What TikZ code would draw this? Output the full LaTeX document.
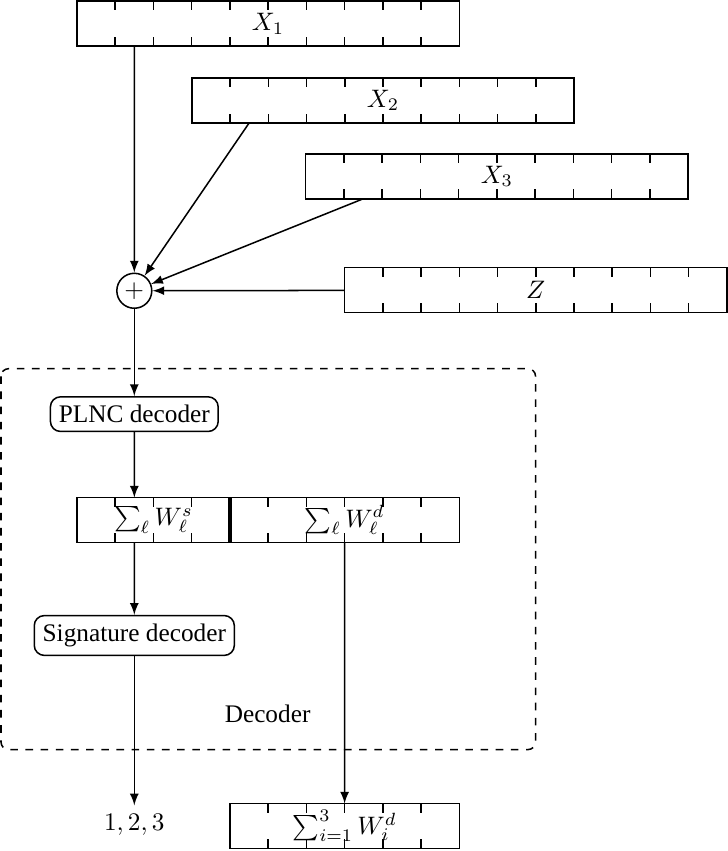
\documentclass[tikz,border=0pt]{standalone}
\usepackage{fontspec}
\setmainfont{Liberation Serif}
\usetikzlibrary{arrows}
\def\cw{0.5315cm}
\def\tl{0.13cm}
\begin{document}
\begin{tikzpicture}
    [
    semithick,
    bar/.style={rectangle,draw,inner sep=0pt,outer sep=0pt,minimum height=6.25mm,anchor=north west},
    adder/.style={circle,draw,inner sep=0pt,minimum size=4.86mm},
    block/.style={rectangle,draw,rounded corners}
    ]
    \useasboundingbox (0,0) rectangle (10.11,-11.83);
    \node (x1) at (1.07,-0.015) [bar,minimum width=5.315cm] {$X_1$};
    \node (x2) at (2.667,-1.083) [bar,minimum width=5.315cm] {$X_2$};
    \node (x3) at (4.25,-2.139) [bar,minimum width=5.315cm] {$X_3$};
    \node (z) at (4.79,-3.72) [bar,minimum width=5.315cm] {$Z$};
    \node (sum) at (1.867,-4.042) [adder] {$+$};
    \node (plnc) at (1.867,-5.757) [block] {PLNC decoder};
    \node (ws) at (1.07,-6.917) [bar,minimum width=2.126cm] {$\sum_\ell W_\ell^s$};
    \node (wd) at (3.196,-6.917) [bar,minimum width=3.189cm] {$\sum_\ell W_\ell^d$};
    \node (sig) at (1.867,-8.834) [block] {Signature decoder};
    \node (out) at (1.867,-11.47) {$1,2,3$};
    \node (wtot) at (3.196,-11.17) [bar,minimum width=3.189cm] {$\sum_{i=1}^3 W_i^d$};
    \node (declabel) at (3.72,-9.92) {Decoder};
    \draw [dashed,rounded corners=3pt] (0.014,-5.125) rectangle (7.445,-10.42);
    % ticks on the bars
    \foreach \n/\k in {x1/9,x2/9,x3/9,z/9,ws/3,wd/5,wtot/5}
      \foreach \i in {1,...,\k} {
        \draw ([xshift=\i*\cw]\n.north west) -- ++(0,-\tl);
        \draw ([xshift=\i*\cw]\n.south west) -- ++(0,\tl);
      }
    \draw [line width=1.6pt] (ws.north east) to (ws.south east);
    \draw [-latex] ([xshift=1.5*\cw]x1.south west) to (sum);
    \draw [-latex] ([xshift=1.5*\cw]x2.south west) to (sum);
    \draw [-latex] ([xshift=1.5*\cw]x3.south west) to (sum);
    \draw [-latex] (z) to (sum);
    \draw [-latex] (sum) to (plnc);
    \draw [-latex] (plnc) to ([xshift=1.5*\cw]ws.north west);
    \draw [-latex] ([xshift=1.5*\cw]ws.south west) to (sig);
    \draw [-latex] (sig) to (out);
    \draw [-latex] ([xshift=3*\cw]wd.south west) to (wtot.north);
  \end{tikzpicture}
\end{document}
